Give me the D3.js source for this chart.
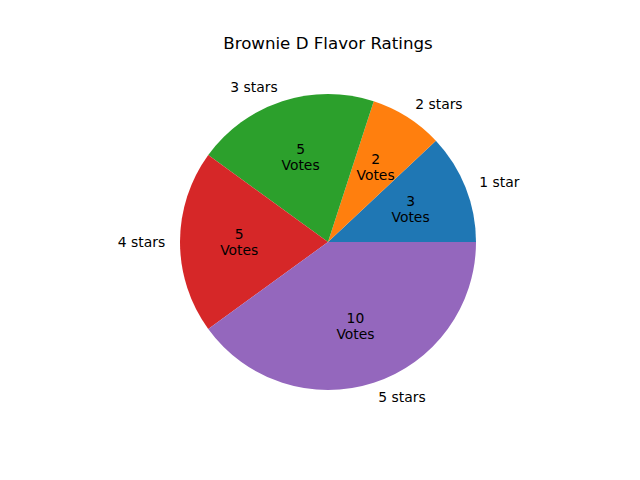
<!DOCTYPE html>
<html><head><meta charset="utf-8">
<script src="https://cdn.jsdelivr.net/npm/d3@7"></script>
<style>body{margin:0;background:#fff}svg{display:block}</style>
</head><body>
<script>
const categories = ["1 star", "2 stars", "3 stars", "4 stars", "5 stars"];
const votes = [3, 2, 5, 5, 10];
const colors = ["#1f77b4", "#ff7f0e", "#2ca02c", "#d62728", "#9467bd"];
const title = "Brownie D Flavor Ratings";

const W = 640, H = 480, cx = 328, cy = 242, R = 148;
const svg = d3.select("body").append("svg").attr("width", W).attr("height", H)
  .style("font-family", "DejaVu Sans");

const data = categories.map((c, i) => ({c, v: votes[i], col: colors[i]}));
const pie = d3.pie().value(d => d.v).sort(null)
  .startAngle(Math.PI / 2).endAngle(Math.PI / 2 - 2 * Math.PI);
const arcs = pie(data);
const arc = d3.arc().innerRadius(0).outerRadius(R);
const g = svg.append("g").attr("transform", `translate(${cx},${cy})`);
g.selectAll("path").data(arcs).enter().append("path")
  .attr("d", arc).attr("fill", d => d.data.col);

function pos(d, f) {
  const a = (d.startAngle + d.endAngle) / 2;
  return [Math.sin(a) * R * f, -Math.cos(a) * R * f];
}
const fs = 13.89;
arcs.forEach(d => {
  const [x, y] = pos(d, 1.1);
  g.append("text").attr("x", x).attr("y", y).attr("dy", "0.35em")
    .attr("text-anchor", x > 0 ? "start" : "end")
    .attr("font-size", fs).attr("fill", "#000").text(d.data.c);
  const [px, py] = pos(d, 0.6);
  const t = g.append("text").attr("text-anchor", "middle").attr("font-size", fs).attr("fill", "#000");
  t.append("tspan").attr("x", px).attr("y", py - 8).attr("dy", "0.35em").text(d.data.v);
  t.append("tspan").attr("x", px).attr("y", py + 8).attr("dy", "0.35em").text("Votes");
});

svg.append("text").attr("x", 328).attr("y", 43).attr("dy", "0.35em")
  .attr("text-anchor", "middle").attr("font-size", 16.67).attr("fill", "#000").text(title);
</script>
</body></html>
